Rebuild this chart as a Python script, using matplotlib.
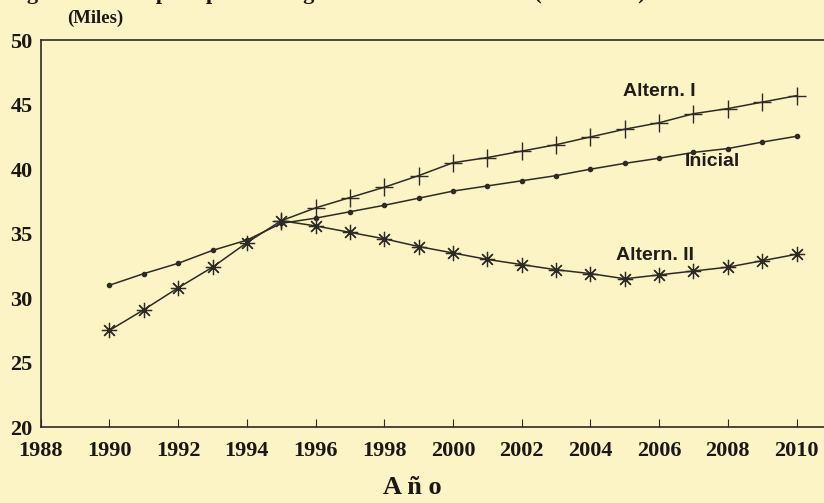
import numpy as np
import matplotlib.pyplot as plt

years = list(range(1990, 2011))
inicial = [31.0, 31.9, 32.7, 33.7, 34.5, 35.8, 36.2, 36.7, 37.2, 37.75, 38.3,
           38.7, 39.1, 39.5, 40.0, 40.45, 40.85, 41.3, 41.6, 42.1, 42.55]
altern1 = [27.5, 29.1, 30.8, 32.4, 34.3, 36.0, 37.0, 37.8, 38.6, 39.5, 40.5,
           40.9, 41.4, 41.9, 42.5, 43.1, 43.6, 44.3, 44.7, 45.2, 45.7]
altern2 = [27.5, 29.1, 30.8, 32.4, 34.3, 36.0, 35.6, 35.1, 34.6, 34.0, 33.5,
           33.0, 32.6, 32.2, 31.9, 31.5, 31.8, 32.1, 32.4, 32.9, 33.4]
xticks = list(range(1988, 2011, 2))
yticks = list(range(20, 51, 5))

bg = '#fcf4c4'
ink = '#2e2a26'

fig = plt.figure(figsize=(8.24, 5.03), dpi=100, facecolor=bg)
ax = fig.add_axes([0.0495, 0.151, 0.9505, 0.769], facecolor=bg)

ax.plot(years, inicial, color=ink, lw=1.1, marker='o', ms=3)
ax.plot(years[5:], altern1[5:], color=ink, lw=1.1, marker='+', ms=13, mew=1.0)
ax.plot(years, altern2, color=ink, lw=1.1, marker=(8, 2, 0), ms=11, mew=0.9)

ax.set_xlim(1988, 2010.8)
ax.set_ylim(20, 50)
ax.set_xticks(xticks)
ax.set_yticks(yticks)
ax.spines['right'].set_visible(False)
for s in ['left', 'bottom', 'top']:
    ax.spines[s].set_color(ink)
    ax.spines[s].set_linewidth(1.2)
ax.tick_params(axis='x', direction='in', length=6, color=ink, pad=10)
ax.tick_params(axis='y', length=0, pad=6)
for lab in ax.get_xticklabels() + ax.get_yticklabels():
    lab.set_fontfamily('Liberation Serif')
    lab.set_fontweight('bold')
    lab.set_fontsize(16)
    lab.set_color('#1a1714')

fig.text(0.082, 0.964, '(Miles)', ha='left', va='center', color='#1a1714',
         family='Liberation Serif', weight='bold', size=13.5)
fig.text(0.50, 0.03, 'A ñ o', ha='center', va='center', color='#1a1714',
         family='Liberation Serif', weight='bold', size=19)
fig.text(-0.005, 1.012, 'carga: demanda para período según distintos escenarios (1990-2010).',
         ha='left', va='center', color='#1a1714', family='Liberation Serif',
         weight='bold', size=16)

sans = dict(family='Liberation Sans', weight='bold', size=14, color='#1f1c19')
ax.text(2007.05, 46.0, 'Altern. I', ha='right', va='center', **sans)
ax.text(2006.75, 40.6, 'Inicial', ha='left', va='center', **sans)
ax.text(2004.75, 33.3, 'Altern. II', ha='left', va='center', **sans)

fig.savefig('out.png', dpi=100, facecolor=bg)
